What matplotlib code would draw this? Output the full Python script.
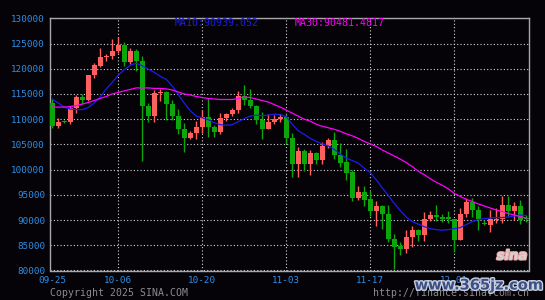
import numpy as np
import matplotlib.pyplot as plt
import matplotlib.patheffects as pe

# daily candles 09-25 .. 12-13
opens = [113300, 108700, 109600, 109400, 112200, 114300, 113900, 118700, 120600, 122300,
         122500, 123600, 124700, 121300, 123500, 121600, 112600, 110700, 115100, 115300,
         113100, 110700, 108000, 106300, 107300, 108500, 110500, 108400, 107500, 110300,
         111000, 111900, 114600, 113900, 112700, 109800, 108100, 109500, 110000, 110500,
         106300, 101100, 103700, 101100, 103300, 102000, 104700, 105900, 102900, 101500,
         99500, 94300, 95500, 94100, 91800, 92800, 91300, 86300, 84800, 84300,
         86600, 88000, 87000, 90300, 91100, 90600, 90700, 90200, 86000, 91300,
         93500, 92000, 89500, 89000, 90000, 90300, 92900, 91800, 92700, 90500]
highs = [114000, 110200, 109900, 112700, 114700, 115000, 118800, 121100, 124200, 123000,
         125800, 126200, 125300, 124100, 124000, 122500, 113300, 115800, 116000, 115500,
         113800, 112000, 109300, 107600, 109600, 111800, 114100, 108800, 111300, 111300,
         112300, 115500, 116700, 116000, 112900, 111500, 111000, 110800, 111000, 111000,
         107200, 104500, 104100, 103900, 103500, 105500, 106300, 107500, 105300, 104100,
         99900, 96800, 96700, 95800, 93800, 93000, 93000, 87300, 85600, 88000,
         88900, 88300, 91500, 91800, 93000, 91300, 91800, 90300, 92300, 94300,
         94300, 92700, 90100, 91900, 92300, 94700, 94700, 93500, 94000, 91000]
lows = [108300, 108300, 109200, 109000, 111300, 113000, 113600, 118100, 120300, 121500,
        122000, 123100, 120500, 120900, 119600, 101700, 109500, 109500, 113700, 109800,
        109900, 107100, 103500, 106100, 106000, 107300, 106500, 106500, 107000, 109700,
        110700, 111300, 112800, 112300, 109000, 106100, 108100, 109000, 109500, 105100,
        98500, 98500, 99800, 98900, 101200, 101200, 104300, 102200, 100500, 98000,
        93700, 94000, 92800, 90900, 88800, 88300, 85600, 80300, 83100, 83500,
        84700, 85800, 85800, 89800, 89800, 89700, 89500, 83700, 86000, 90700,
        90700, 88000, 89000, 87700, 89500, 89500, 90900, 90000, 89200, 89700]
closes = [108700, 109500, 109400, 112200, 114300, 113900, 118700, 120800, 122300, 122500,
          123600, 124700, 121300, 123500, 121600, 112600, 110700, 115100, 115300, 113100,
          110700, 108000, 106300, 107300, 108500, 110500, 108400, 107500, 110300, 111000,
          111900, 114600, 113900, 112700, 109800, 108100, 109500, 110000, 110500, 106300,
          101100, 103700, 101100, 103300, 102000, 104700, 105900, 102900, 101300, 99400,
          94300, 95500, 94000, 91800, 92800, 91300, 86300, 84700, 84300, 86600,
          88000, 87000, 90300, 91100, 90600, 90300, 90200, 86000, 91300, 93500,
          92000, 90200, 89200, 90200, 90300, 92900, 91800, 92800, 90000, 90200]

ma10 = [114000, 113200, 112400, 112000, 111900, 111900, 112300, 113200, 114400, 116000,
        117300, 118700, 119800, 120700, 121100, 120600, 119900, 119300, 118500, 117900,
        116600, 114900, 113200, 111700, 110600, 110300, 109900, 109300, 108900, 108800,
        108900, 109500, 110100, 110600, 110800, 110700, 110800, 111000, 110900, 110500,
        109000, 107700, 107000, 106200, 105600, 105100, 104700, 104000, 103100, 102300,
        101800, 101300, 100300, 99400, 98000, 96400, 94900, 93300, 91900, 90600,
        89700, 89200, 88700, 88300, 88100, 88000, 88100, 88300, 88500, 89100,
        89700, 90100, 90300, 90400, 90500, 90500, 90600, 90800, 91000, 90900]
ma30 = [112400, 112400, 112400, 112500, 112700, 113000, 113300, 113700, 114100, 114500,
        115000, 115300, 115600, 115900, 116200, 116200, 116200, 116100, 116100, 116000,
        115800, 115400, 115000, 114800, 114500, 114300, 114100, 114000, 113900, 113900,
        113900, 114100, 114400, 114300, 114000, 113700, 113400, 112900, 112400, 111800,
        111200, 110600, 110000, 109600, 109000, 108600, 108300, 108000, 107600, 107100,
        106700, 106200, 105600, 105100, 104600, 103900, 103300, 102700, 102100, 101400,
        100600, 99700, 99000, 98200, 97500, 96900, 96200, 95300, 94700, 94100,
        93700, 93200, 92800, 92400, 92000, 91700, 91300, 91000, 90700, 90400]

tick_pos = [0, 11, 25, 39, 53, 67]
tick_labels = ['09-25', '10-06', '10-20', '11-03', '11-17', '12-01']
y_ticks = [80000, 85000, 90000, 95000, 100000, 105000, 110000, 115000, 120000, 125000, 130000]

bg = '#050308'
lbl = '#2f8fe6'
red = '#ff5f5f'
green = '#0aa60a'
mono = 'DejaVu Sans Mono'

fig = plt.figure(figsize=(5.45, 3.0), dpi=100, facecolor=bg)
ax = fig.add_axes([50 / 545, 1 - 270.5 / 300, 479 / 545, (270.5 - 18.3) / 300])
ax.set_facecolor(bg)

x = np.arange(len(opens))
o = np.array(opens); h = np.array(highs); l = np.array(lows); c = np.array(closes)
cols = np.where(c >= o, red, green)
ax.vlines(x, l, h, colors=cols, lw=1, zorder=2)
ax.bar(x, np.maximum(np.abs(c - o), 200), 0.83, bottom=np.minimum(o, c),
       color=cols, lw=0, zorder=3)
ax.plot(x, ma10, color='#1c1cf0', lw=0.9, zorder=4)
ax.plot(x, ma30, color='#ff00ff', lw=0.9, zorder=4)

ax.set_xlim(-0.37, 79.47)
ax.set_ylim(80000, 130000)
ax.set_yticks(y_ticks, [str(v) for v in y_ticks], family=mono)
ax.set_xticks(tick_pos, tick_labels, family=mono)
ax.tick_params(length=0, colors=lbl, labelsize=6.7)
ax.tick_params(axis='y', pad=3.5)
ax.tick_params(axis='x', pad=4)
ax.grid(True, color='#d8d8d8', linestyle=(0, (1, 2)), lw=0.8, zorder=1)
ax.xaxis.get_gridlines()[0].set_visible(False)
for s in ax.spines.values():
    s.set_color('#a8a8a8')
    s.set_linewidth(1)

fig.text(175 / 545, 1 - 23.5 / 300, 'MA10:90939.052', color='#1c1ce8', fontsize=7.1,
         family=mono, va='center')
fig.text(295 / 545, 1 - 23.5 / 300, 'MA30:90481.4817', color='#ff00ff', fontsize=7.1,
         family=mono, va='center')
fig.text(50 / 545, 1 - 292.5 / 300, 'Copyright 2025 SINA.COM', color='#8c8c8c',
         fontsize=7.1, family=mono, va='center')
fig.text(373 / 545, 1 - 293.5 / 300, 'http://finance.sina.com.cn', color='#8c8c8c',
         fontsize=7.1, family=mono, va='center')
fig.text(512 / 545, 1 - 256 / 300, 'sina', color='#d4d4d4', fontsize=9.5, style='italic',
         weight='bold', ha='center', va='center',
         path_effects=[pe.withStroke(linewidth=1.5, foreground='#f0a8a8')])
fig.text(479 / 545, 1 - 285 / 300, 'www.365jz.com', color='#3d4f86', fontsize=10.5,
         weight='bold', ha='center', va='center',
         path_effects=[pe.withStroke(linewidth=2, foreground='#c8d0e0')])

fig.savefig('out.png', dpi=100, facecolor=bg)
